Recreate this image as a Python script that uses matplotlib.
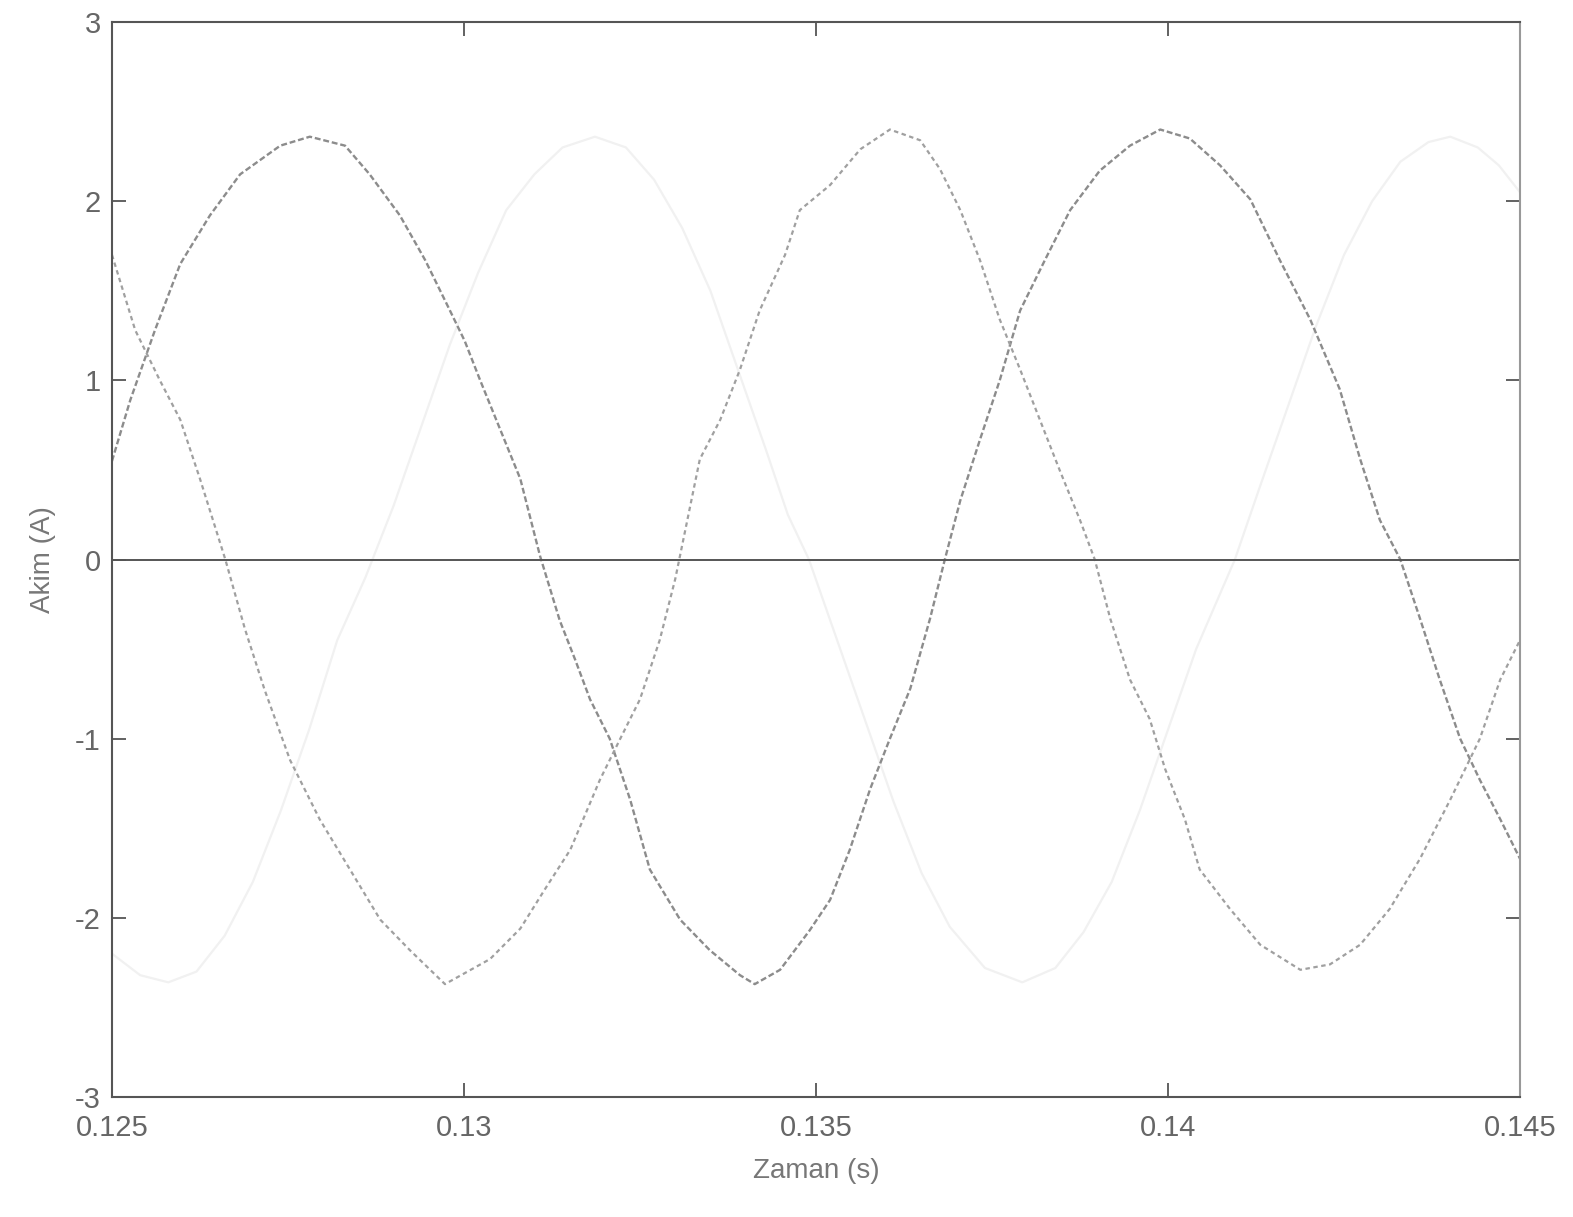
import matplotlib
matplotlib.use('Agg')
import matplotlib.pyplot as plt

# Akim egrileri (uc faz), okunan degerler
t_a = [0.12500, 0.12526, 0.12561, 0.12597, 0.12639, 0.12682, 0.12739, 0.12781,
       0.12831, 0.12866, 0.12909, 0.12945, 0.12980, 0.13001, 0.13023, 0.13051,
       0.13080, 0.13108, 0.13136, 0.13158, 0.13179, 0.13207, 0.13236, 0.13264,
       0.13307, 0.13349, 0.13392, 0.13413, 0.13449, 0.13491, 0.13520, 0.13548,
       0.13577, 0.13605, 0.13634, 0.13662, 0.13683, 0.13705, 0.13733, 0.13761,
       0.13790, 0.13825, 0.13861, 0.13903, 0.13946, 0.13989, 0.14031, 0.14074,
       0.14117, 0.14159, 0.14202, 0.14244, 0.14273, 0.14301, 0.14330, 0.14358,
       0.14386, 0.14415, 0.14443, 0.14472, 0.14500]
i_a = [0.55, 0.89, 1.28, 1.65, 1.92, 2.15, 2.31, 2.36,
       2.31, 2.15, 1.92, 1.67, 1.39, 1.22, 1.00, 0.73,
       0.45, 0.02, -0.34, -0.56, -0.78, -1.00, -1.34, -1.73,
       -2.01, -2.18, -2.32, -2.37, -2.29, -2.07, -1.90, -1.62,
       -1.28, -1.00, -0.72, -0.33, 0.00, 0.33, 0.67, 1.00,
       1.39, 1.67, 1.95, 2.17, 2.31, 2.40, 2.35, 2.20,
       2.01, 1.67, 1.34, 0.95, 0.56, 0.22, 0.00, -0.33,
       -0.67, -1.00, -1.23, -1.45, -1.67]

t_b = [0.12500, 0.12533, 0.12568, 0.12597, 0.12625, 0.12661, 0.12689, 0.12717,
       0.12753, 0.12795, 0.12838, 0.12881, 0.12923, 0.12973, 0.13037, 0.13080,
       0.13115, 0.13151, 0.13193, 0.13222, 0.13250, 0.13278, 0.13300, 0.13335,
       0.13364, 0.13392, 0.13420, 0.13456, 0.13477, 0.13520, 0.13563, 0.13605,
       0.13648, 0.13676, 0.13705, 0.13733, 0.13761, 0.13790, 0.13818, 0.13846,
       0.13875, 0.13896, 0.13918, 0.13946, 0.13974, 0.13996, 0.14024, 0.14045,
       0.14088, 0.14131, 0.14188, 0.14230, 0.14273, 0.14315, 0.14358, 0.14401,
       0.14443, 0.14472, 0.14500]
i_b = [1.70, 1.28, 1.00, 0.78, 0.45, 0.00, -0.39, -0.73,
       -1.12, -1.45, -1.73, -2.01, -2.18, -2.37, -2.23, -2.06,
       -1.84, -1.62, -1.23, -1.00, -0.78, -0.45, -0.11, 0.56,
       0.78, 1.06, 1.39, 1.70, 1.95, 2.09, 2.29, 2.40,
       2.34, 2.18, 1.95, 1.67, 1.34, 1.06, 0.78, 0.50,
       0.22, 0.00, -0.33, -0.67, -0.89, -1.17, -1.45, -1.73,
       -1.95, -2.15, -2.29, -2.26, -2.15, -1.95, -1.67, -1.34,
       -1.00, -0.67, -0.45]

t_c = [0.12500, 0.12540, 0.12580, 0.12620, 0.12660, 0.12700, 0.12740, 0.12780,
       0.12820, 0.12860, 0.12900, 0.12940, 0.12980, 0.13020, 0.13060, 0.13100,
       0.13140, 0.13186, 0.13230, 0.13270, 0.13310, 0.13350, 0.13390, 0.13430,
       0.13460, 0.13490, 0.13530, 0.13570, 0.13610, 0.13650, 0.13690, 0.13740,
       0.13793, 0.13840, 0.13880, 0.13920, 0.13960, 0.14000, 0.14040, 0.14095,
       0.14130, 0.14170, 0.14210, 0.14250, 0.14290, 0.14330, 0.14370, 0.14401,
       0.14440, 0.14470, 0.14500]
i_c = [-2.20, -2.32, -2.36, -2.30, -2.10, -1.80, -1.40, -0.95,
       -0.45, -0.10, 0.30, 0.75, 1.20, 1.60, 1.95, 2.15,
       2.30, 2.36, 2.30, 2.12, 1.85, 1.50, 1.05, 0.60,
       0.25, 0.00, -0.45, -0.90, -1.35, -1.75, -2.05, -2.28,
       -2.36, -2.28, -2.08, -1.80, -1.40, -0.95, -0.50, 0.00,
       0.40, 0.85, 1.30, 1.70, 2.00, 2.22, 2.33, 2.36,
       2.30, 2.20, 2.05]

x_ticks = [0.125, 0.13, 0.135, 0.14, 0.145]
x_labels = ['0.125', '0.13', '0.135', '0.14', '0.145']
y_ticks = [-3, -2, -1, 0, 1, 2, 3]

plt.rcParams['font.family'] = ['Liberation Sans', 'DejaVu Sans']
plt.rcParams['axes.unicode_minus'] = False

fig = plt.figure(figsize=(15.73, 12.17), dpi=100)
ax = fig.add_axes([0.0712, 0.0986, 0.8951, 0.8833])

# soluk faz (taramada neredeyse gorunmuyor)
ax.plot(t_c, i_c, color='#f1f1f1', lw=1.6)
ax.plot(t_a, i_a, color='#8c8c8c', lw=1.7, ls=(0, (2.5, 1.2)))
ax.plot(t_b, i_b, color='#a0a0a0', lw=1.6, ls=(0, (2.0, 1.6)))
ax.axhline(0, color='#555555', lw=1.4)

ax.set_xlim(0.125, 0.145)
ax.set_ylim(-3, 3)
ax.set_xticks(x_ticks)
ax.set_xticklabels(x_labels)
ax.set_yticks(y_ticks)
ax.tick_params(direction='in', length=10, width=1.3, colors='#555555',
               labelcolor='#666666', labelsize=21, top=True, right=True)
ax.tick_params(axis='x', pad=12)
ax.tick_params(axis='y', pad=8)
for s in ax.spines.values():
    s.set_color('#555555')
    s.set_linewidth(1.5)
ax.spines['right'].set_color('#999999')

ax.set_xlabel('Zaman (s)', fontsize=20, color='#777777', labelpad=12)
ax.set_ylabel('Akim (A)', fontsize=20, color='#777777', labelpad=14)

fig.savefig('out.png', dpi=100, facecolor='white')
